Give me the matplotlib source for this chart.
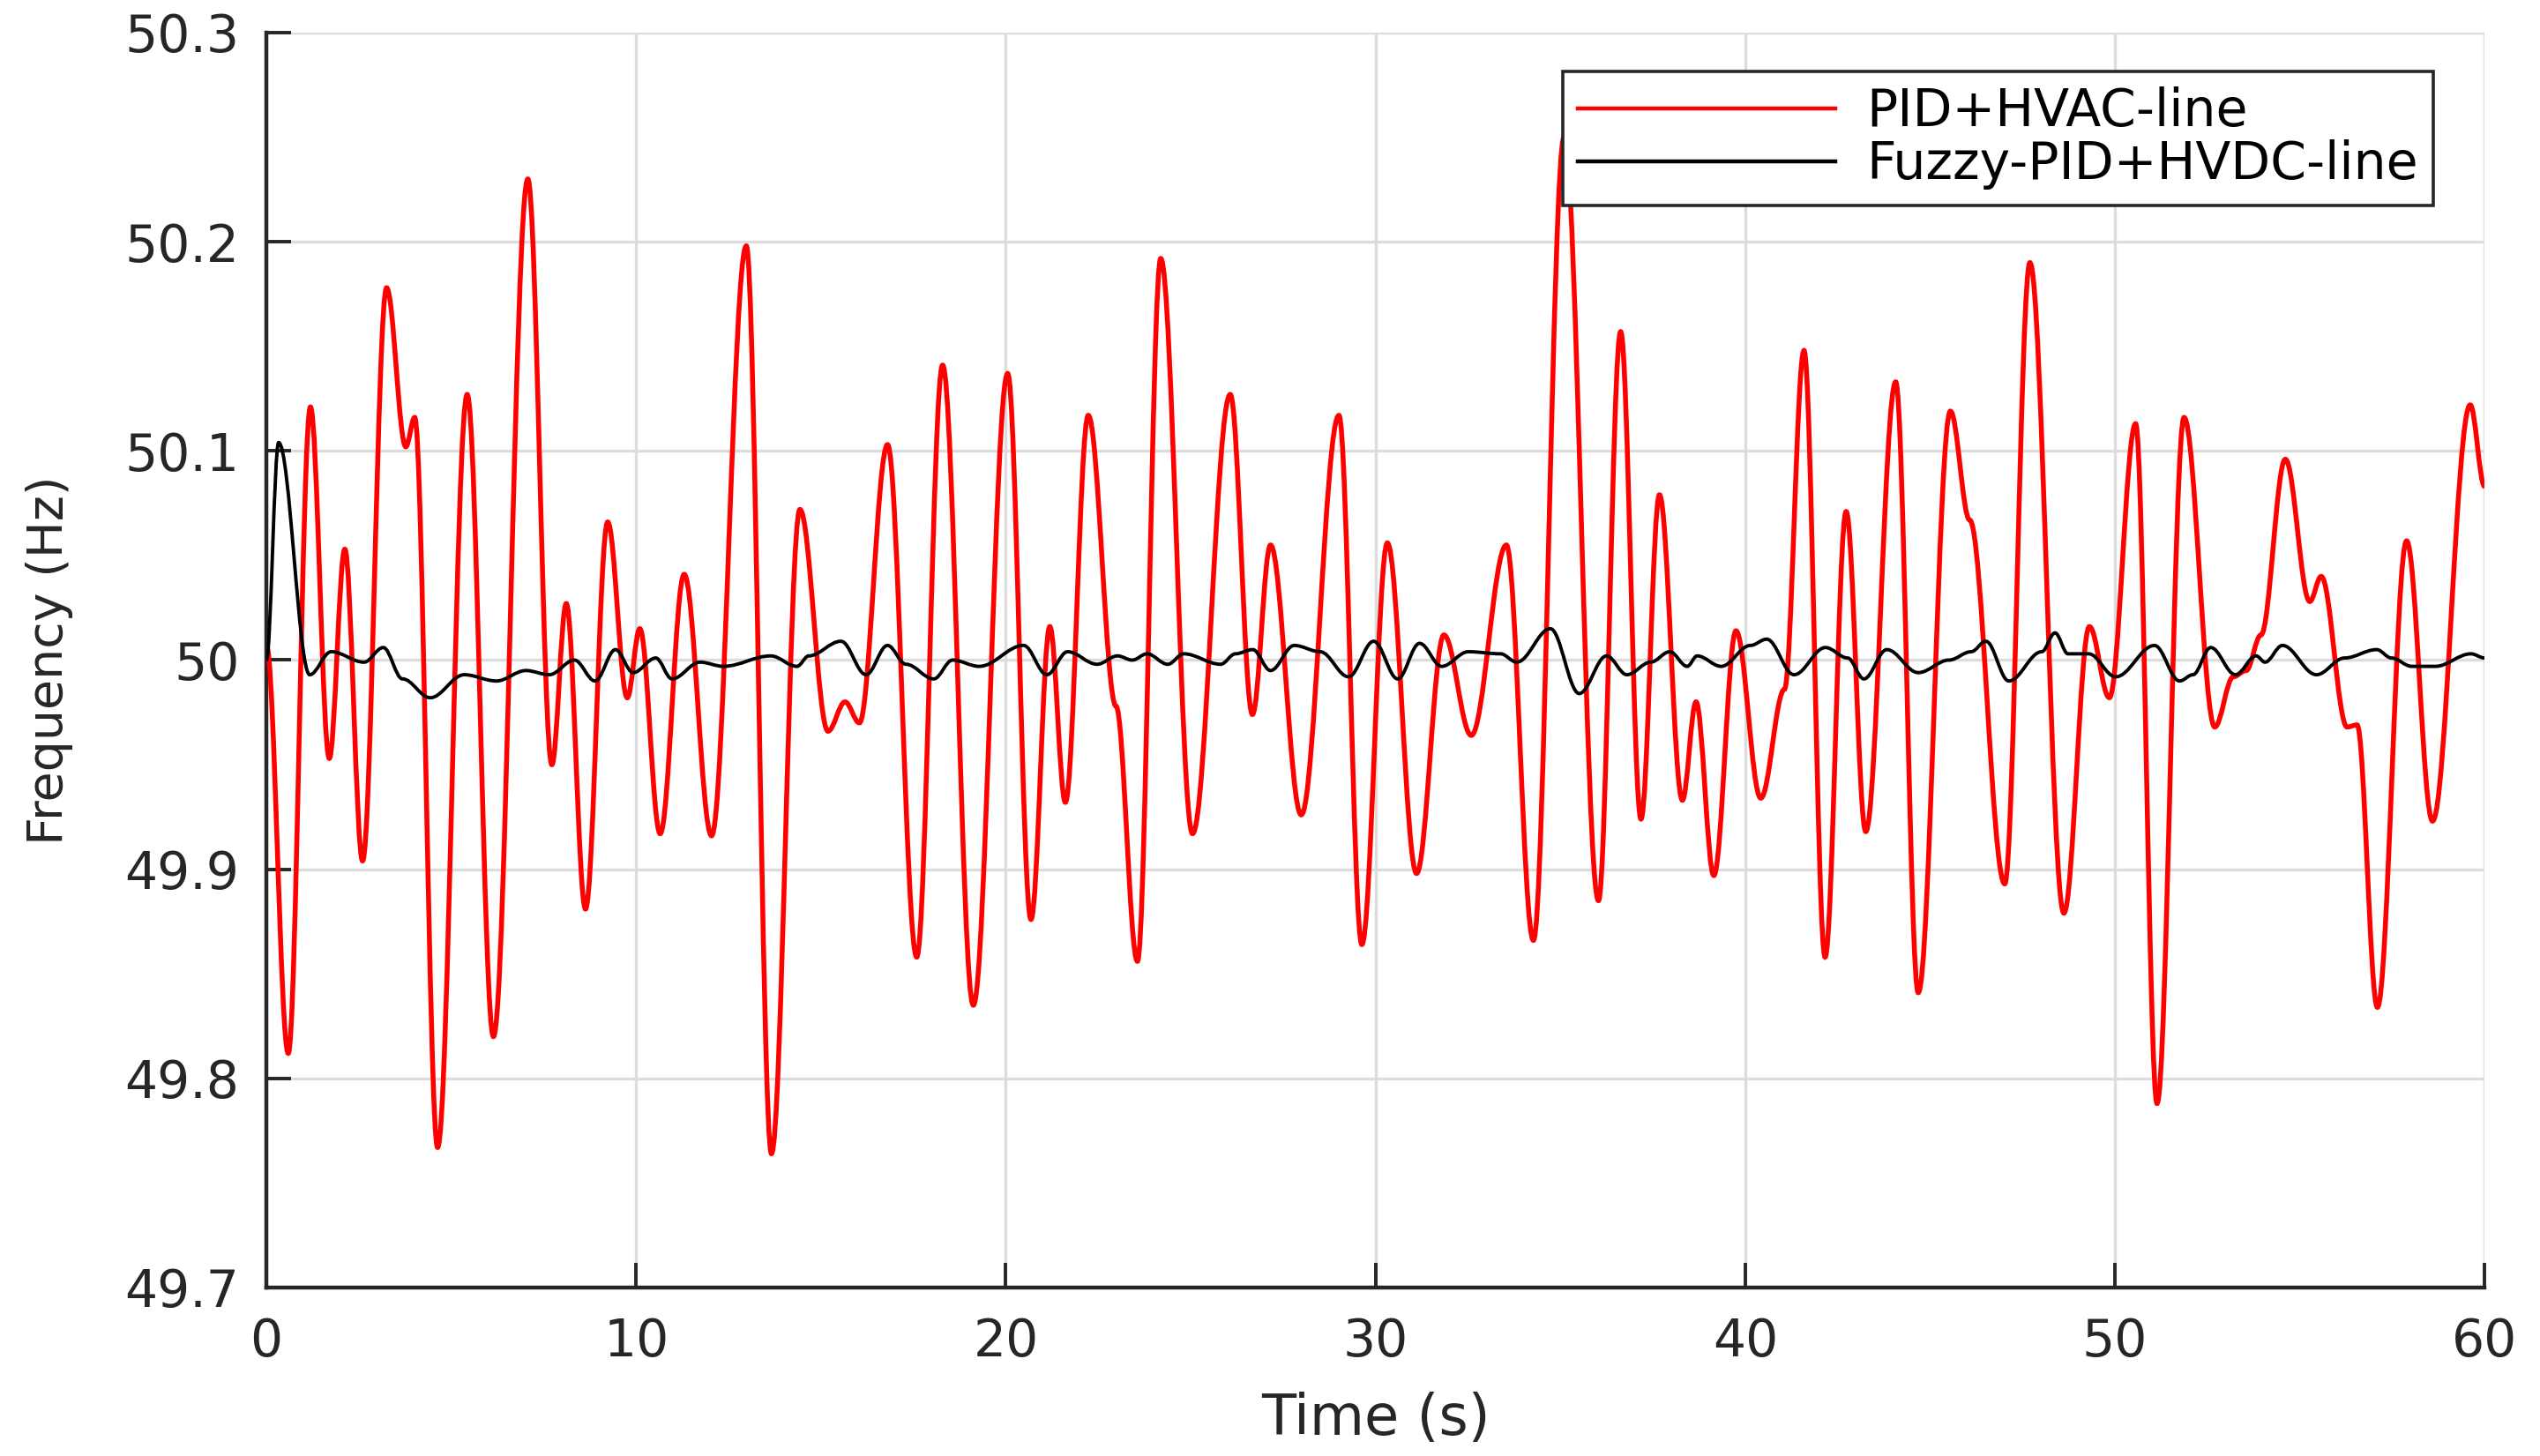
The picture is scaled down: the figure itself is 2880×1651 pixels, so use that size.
import matplotlib
matplotlib.use('Agg')
import matplotlib.pyplot as plt
from matplotlib.path import Path
from matplotlib.patches import PathPatch

# PID + HVAC-line: turning points (time s, frequency Hz)
t_hvac = [0, 0.59, 1.19, 1.70, 2.12, 2.60, 3.25, 3.77, 4.01, 4.63, 5.43, 6.14, 7.07, 7.72,
          8.11, 8.63, 9.23, 9.76, 10.10, 10.65, 11.30, 12.04, 12.98, 13.66, 14.43, 15.19,
          15.65, 16.04, 16.80, 17.59, 18.29, 19.12, 20.05, 20.68, 21.19, 21.61, 22.23,
          22.98, 23.56, 24.19, 25.05, 26.07, 26.67, 27.16, 27.99, 29.01, 29.63, 30.32,
          31.11, 31.85, 32.59, 33.54, 34.27, 35.10, 36.03, 36.63, 37.18, 37.68, 38.30,
          38.67, 39.15, 39.75, 40.42, 41.06, 41.59, 42.16, 42.73, 43.26, 44.07, 44.68,
          45.55, 46.07, 47.02, 47.70, 48.62, 49.31, 49.85, 50.56, 51.14, 51.87, 52.70,
          53.20, 53.55, 53.95, 54.61, 55.27, 55.58, 56.28, 56.55, 57.10, 57.89, 58.59,
          59.61, 60.0]
f_hvac = [50.007, 49.812, 50.121, 49.953, 50.053, 49.904, 50.178, 50.102, 50.116, 49.767,
          50.127, 49.820, 50.230, 49.950, 50.027, 49.881, 50.066, 49.982, 50.015, 49.917,
          50.041, 49.916, 50.198, 49.764, 50.072, 49.966, 49.980, 49.970, 50.103, 49.858,
          50.141, 49.835, 50.137, 49.876, 50.016, 49.932, 50.117, 49.978, 49.856, 50.192,
          49.917, 50.127, 49.974, 50.055, 49.926, 50.117, 49.864, 50.056, 49.898, 50.012,
          49.964, 50.055, 49.866, 50.25, 49.885, 50.157, 49.924, 50.079, 49.933, 49.980,
          49.897, 50.014, 49.934, 49.986, 50.148, 49.858, 50.071, 49.918, 50.133, 49.841,
          50.119, 50.067, 49.893, 50.190, 49.879, 50.016, 49.982, 50.113, 49.788, 50.116,
          49.968, 49.992, 49.995, 50.012, 50.096, 50.028, 50.040, 49.968, 49.969, 49.834,
          50.057, 49.923, 50.122, 50.083]

# Fuzzy-PID + HVDC-line
t_fuzzy = [0, 0.33, 1.17, 1.75, 2.64, 3.16, 3.68, 4.43, 5.35, 6.22, 7.02, 7.65, 8.33, 8.89,
           9.44, 9.92, 10.53, 10.97, 11.73, 12.36, 13.64, 14.35, 14.67, 15.54, 16.22,
           16.80, 17.30, 18.05, 18.56, 19.28, 20.48, 21.11, 21.67, 22.47, 23.02, 23.42,
           23.82, 24.38, 24.81, 25.81, 26.21, 26.68, 27.16, 27.80, 28.50, 29.27, 29.95,
           30.60, 31.19, 31.79, 32.51, 33.38, 33.82, 34.73, 35.51, 36.25, 36.80, 37.44,
           37.96, 38.43, 38.70, 39.35, 40.14, 40.58, 41.32, 42.17, 42.77, 43.21, 43.83,
           44.68, 45.51, 46.11, 46.51, 47.13, 48.02, 48.38, 48.73, 49.29, 50.02, 51.07,
           51.75, 52.11, 52.59, 53.26, 53.82, 54.06, 54.53, 55.45, 56.21, 57.08, 57.48,
           58.03, 58.67, 59.63, 60.0]
f_fuzzy = [50.000, 50.104, 49.993, 50.004, 49.999, 50.006, 49.991, 49.982, 49.993, 49.990,
           49.995, 49.993, 50.000, 49.990, 50.005, 49.994, 50.001, 49.991, 49.999, 49.997,
           50.002, 49.997, 50.002, 50.009, 49.993, 50.007, 49.998, 49.991, 50.000, 49.997,
           50.007, 49.993, 50.004, 49.998, 50.002, 50.000, 50.003, 49.998, 50.003, 49.998,
           50.003, 50.005, 49.995, 50.007, 50.004, 49.992, 50.009, 49.991, 50.008, 49.997,
           50.004, 50.003, 49.999, 50.015, 49.984, 50.002, 49.993, 49.999, 50.004, 49.997,
           50.002, 49.997, 50.007, 50.010, 49.993, 50.006, 50.001, 49.991, 50.005, 49.994,
           50.000, 50.004, 50.009, 49.990, 50.004, 50.013, 50.003, 50.003, 49.992, 50.007,
           49.990, 49.993, 50.006, 49.993, 50.002, 49.999, 50.007, 49.993, 50.001, 50.005,
           50.001, 49.997, 49.997, 50.003, 50.001]

x_ticks = [0, 10, 20, 30, 40, 50, 60]
y_ticks = [49.7, 49.8, 49.9, 50.0, 50.1, 50.2, 50.3]
y_ticklabels = ['49.7', '49.8', '49.9', '50', '50.1', '50.2', '50.3']

assert len(t_hvac) == len(f_hvac) and len(t_fuzzy) == len(f_fuzzy)


def smooth_path(t, f, k=0.36):
    # cubic bezier through the turning points, flat tangent at each one
    verts = [(t[0], f[0])]
    codes = [Path.MOVETO]
    for i in range(len(t) - 1):
        dt = t[i + 1] - t[i]
        verts += [(t[i] + k * dt, f[i]), (t[i + 1] - k * dt, f[i + 1]), (t[i + 1], f[i + 1])]
        codes += [Path.CURVE4] * 3
    return Path(verts, codes)


plt.rcParams['font.family'] = ['DejaVu Sans']
fig = plt.figure(figsize=(14.4, 8.255), dpi=200)
ax = fig.add_axes([0.1049, 0.1157, 0.8733, 0.8619])

dark = '#262626'
ax.add_patch(PathPatch(smooth_path(t_hvac, f_hvac), facecolor='none', edgecolor='#ff0000',
                       lw=2.0, zorder=3))
ax.add_patch(PathPatch(smooth_path(t_fuzzy, f_fuzzy), facecolor='none', edgecolor='black',
                       lw=1.4, zorder=4))

ax.set_xlim(0, 60)
ax.set_ylim(49.7, 50.3)
ax.set_xticks(x_ticks)
ax.set_yticks(y_ticks)
ax.set_yticklabels(y_ticklabels)
ax.grid(True, color='#dcdcdc', lw=1.2)
ax.set_axisbelow(True)

for s in ['top', 'right']:
    ax.spines[s].set_visible(False)
for s in ['left', 'bottom']:
    ax.spines[s].set_color(dark)
    ax.spines[s].set_linewidth(1.6)
ax.tick_params(axis='both', direction='in', length=10, width=1.4, color=dark,
               labelcolor=dark, labelsize=21)
ax.tick_params(axis='x', pad=12)
ax.tick_params(axis='y', pad=11)

ax.set_xlabel('Time (s)', fontsize=23, color=dark, labelpad=10)
ax.set_ylabel('Frequency (Hz)', fontsize=20, color=dark)
ax.yaxis.set_label_coords(-0.087, 0.5)

h1, = ax.plot([], [], color='#ff0000', lw=1.6, label='PID+HVAC-line')
h2, = ax.plot([], [], color='black', lw=1.6, label='Fuzzy-PID+HVDC-line')
leg = ax.legend(handles=[h1, h2], loc='upper right', bbox_to_anchor=(0.958, 0.951),
                bbox_transform=fig.transFigure, borderaxespad=0, fontsize=21,
                fancybox=False, framealpha=1, edgecolor=dark, handlelength=5.0,
                handletextpad=0.6, labelspacing=0.05, borderpad=0.3)
leg.get_frame().set_linewidth(1.3)
leg.set_zorder(10)

fig.savefig('out.png', dpi=200)
